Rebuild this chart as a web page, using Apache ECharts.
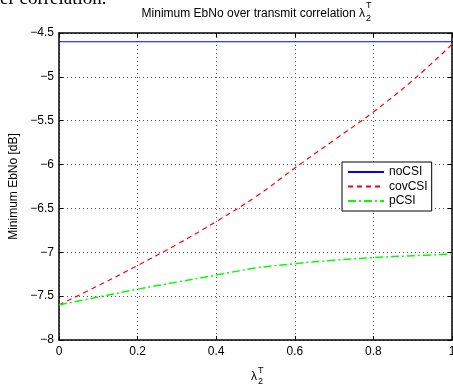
<!DOCTYPE html>
<html>
<head>
<meta charset="utf-8">
<script src="https://cdn.jsdelivr.net/npm/echarts@6/dist/echarts.min.js"></script>
<style>html,body{margin:0;padding:0;background:#fff;overflow:hidden;}#c{position:absolute;left:0;top:0;width:453px;height:385px;}</style>
</head>
<body>
<div id="c"></div>
<script>
var lambdaX = [0, 0.1, 0.2, 0.3, 0.4, 0.5, 0.6, 0.7, 0.8, 0.9, 1.0];
var noCSI   = [-4.6, -4.6, -4.6, -4.6, -4.6, -4.6, -4.6, -4.6, -4.6, -4.6, -4.6];
var covCSI  = [-7.6, -7.38, -7.15, -6.91, -6.65, -6.37, -6.04, -5.72, -5.40, -5.04, -4.63];
var pCSI    = [-7.6, -7.51, -7.42, -7.34, -7.26, -7.18, -7.13, -7.09, -7.06, -7.04, -7.02];
var seriesNames = ['noCSI', 'covCSI', 'pCSI'];
var xTicks = [0, 0.2, 0.4, 0.6, 0.8, 1];
var yTicks = [-8, -7.5, -7, -6.5, -6, -5.5, -5, -4.5];

function pairs(ys) { return lambdaX.map(function (x, i) { return [x, ys[i]]; }); }
var FONT = '"Liberation Sans", Arial, Helvetica, sans-serif';
function fmt(v) { return String(v).replace('-', '\u2212'); }

var chart = echarts.init(document.getElementById('c'), null, { renderer: 'canvas', width: 453, height: 385 });
var tickCommon = { show: true, inside: true, length: 4, lineStyle: { color: '#000', width: 1 } };
var gridLine = { show: true, lineStyle: { color: '#555', type: [1, 3], width: 1 } };

chart.setOption({
  animation: false,
  backgroundColor: '#fff',
  grid: { left: 59, right: 1, top: 33, bottom: 45, containLabel: false, outerBoundsMode: 'none' },
  xAxis: [{
    type: 'value', min: 0, max: 1, interval: 0.2,
    axisLine: { show: true, onZero: false, lineStyle: { color: '#000', width: 1.5 } },
    axisTick: tickCommon,
    splitLine: gridLine,
    axisLabel: { color: '#000', fontFamily: FONT, fontSize: 12, margin: 6, formatter: function (v) { return fmt(v); } }
  }, {
    type: 'value', min: 0, max: 1, interval: 0.2, position: 'top',
    axisLine: { show: true, onZero: false, lineStyle: { color: '#000', width: 1.5 } },
    axisTick: tickCommon, splitLine: { show: false }, axisLabel: { show: false }
  }],
  yAxis: [{
    type: 'value', min: -8, max: -4.5, interval: 0.5,
    axisLine: { show: true, onZero: false, lineStyle: { color: '#000', width: 1.5 } },
    axisTick: tickCommon,
    splitLine: gridLine,
    axisLabel: { color: '#000', fontFamily: FONT, fontSize: 12, margin: 5, formatter: function (v) { return fmt(v); } },
    name: 'Minimum EbNo [dB]', nameLocation: 'middle', nameGap: 36,
    nameTextStyle: { color: '#000', fontFamily: FONT, fontSize: 12 }
  }, {
    type: 'value', min: -8, max: -4.5, interval: 0.5, position: 'right',
    axisLine: { show: true, onZero: false, lineStyle: { color: '#000', width: 1.5 } },
    axisTick: tickCommon, splitLine: { show: false }, axisLabel: { show: false }
  }],
  legend: {
    data: seriesNames,
    orient: 'vertical',
    left: 342, top: 162,
    itemWidth: 36, itemHeight: 10, itemGap: 2.5,
    padding: [4, 4, 4, 5],
    borderColor: '#000', borderWidth: 1, backgroundColor: '#fff',
    itemStyle: { opacity: 0 },
    textStyle: { color: '#000', fontFamily: FONT, fontSize: 12 }
  },
  series: [{
    name: seriesNames[0], type: 'line', data: pairs(noCSI), symbol: 'none',
    lineStyle: { color: '#0000ff', width: 1.2, type: 'solid' }, itemStyle: { color: '#0000ff' }
  }, {
    name: seriesNames[1], type: 'line', data: pairs(covCSI), symbol: 'none', smooth: 0.4,
    lineStyle: { color: '#ff0000', width: 1.2, type: [5, 4] }, itemStyle: { color: '#ff0000' }
  }, {
    name: seriesNames[2], type: 'line', data: pairs(pCSI), symbol: 'none', smooth: 0.4,
    lineStyle: { color: '#00ff00', width: 1.5, type: [8, 3, 2, 3] }, itemStyle: { color: '#00ff00' }
  }],
  graphic: [
    { type: 'text', left: 0, top: -10, style: { text: 'er correlation.', fill: '#000', font: '19px "Liberation Serif", "DejaVu Serif", serif' }, z: 100 },
    { type: 'text', x: 365, y: 14, style: { text: 'Minimum EbNo over transmit correlation \u03bb', fill: '#000', font: '12px ' + FONT, align: 'right', verticalAlign: 'middle' } },
    { type: 'text', x: 366, y: 6, style: { text: 'T', fill: '#000', font: '9px ' + FONT, align: 'left', verticalAlign: 'middle' } },
    { type: 'text', x: 366, y: 19, style: { text: '2', fill: '#000', font: '9px ' + FONT, align: 'left', verticalAlign: 'middle' } },
    { type: 'text', x: 257, y: 377, style: { text: '\u03bb', fill: '#000', font: '12px ' + FONT, align: 'right', verticalAlign: 'middle' } },
    { type: 'text', x: 258, y: 371, style: { text: 'T', fill: '#000', font: '9px ' + FONT, align: 'left', verticalAlign: 'middle' } },
    { type: 'text', x: 258, y: 382, style: { text: '2', fill: '#000', font: '9px ' + FONT, align: 'left', verticalAlign: 'middle' } }
  ]
});
</script>
</body>
</html>
